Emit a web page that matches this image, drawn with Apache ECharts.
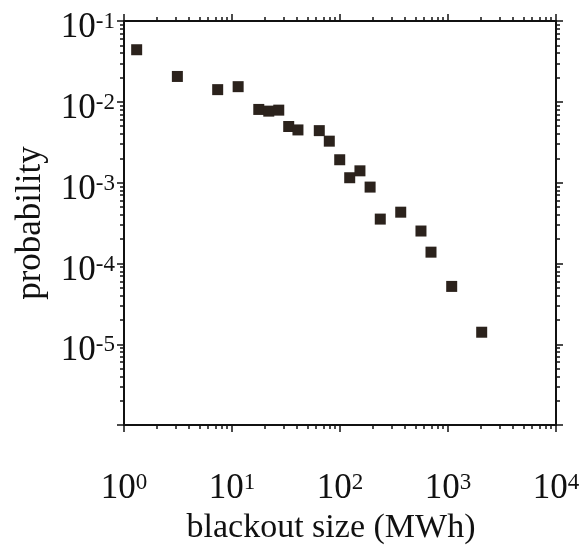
<!DOCTYPE html>
<html>
<head>
<meta charset="utf-8">
<script src="https://cdn.jsdelivr.net/npm/echarts@6/dist/echarts.min.js"></script>
<style>
html,body{margin:0;padding:0;background:#fff;}
#c{width:584px;height:550px;}
</style>
</head>
<body>
<div id="c"></div>
<script>
// blackout size (MWh)
var sizes = [1.31, 3.12, 7.37, 11.4, 17.7, 21.9, 27.1, 33.5, 40.8, 64.3, 79.6, 99.4, 123, 153, 190, 236, 365, 562, 696, 1082, 2051];
// probability
var probs = [0.0441, 0.0206, 0.01415, 0.0154, 0.00805, 0.00767, 0.00789, 0.00495, 0.00449, 0.00440, 0.00326, 0.00192, 0.00115, 0.00140, 0.000881, 0.000354, 0.000431, 0.000252, 0.000138, 0.0000520, 0.0000141];
var xMinorTicks = [2,3,4,5,6,7,8,9,20,30,40,50,60,70,80,90,200,300,400,500,600,700,800,900,2000,3000,4000,5000,6000,7000,8000,9000];
var yMinorTicks = [2e-6,3e-6,4e-6,5e-6,6e-6,7e-6,8e-6,9e-6,2e-5,3e-5,4e-5,5e-5,6e-5,7e-5,8e-5,9e-5,2e-4,3e-4,4e-4,5e-4,6e-4,7e-4,8e-4,9e-4,2e-3,3e-3,4e-3,5e-3,6e-3,7e-3,8e-3,9e-3,2e-2,3e-2,4e-2,5e-2,6e-2,7e-2,8e-2,9e-2];

var FONT = 'Liberation Serif';
var INK = '#111';
var data = sizes.map(function (s, i) { return [s, probs[i]]; });

function expLabel(v) {
  var e = Math.round(Math.log10(v));
  return '{b|10}{s|' + (e < 0 ? '-' + (-e) : e) + '}';
}
var rich = {
  b: { fontFamily: FONT, fontSize: 35, color: INK },
  s: { fontFamily: FONT, fontSize: 23, color: INK, verticalAlign: 'top', padding: [0, 0, 12, 0] }
};

function logAxis(type, pos, min, max, opts) {
  var base = {
    type: 'log', logBase: 10, position: pos, min: min, max: max, interval: 1,
    splitLine: { show: false },
    axisLine: { show: true, lineStyle: { color: INK, width: 2 } },
    axisTick: { show: true, length: 7, lineStyle: { color: INK, width: 1.5 } },
    axisLabel: { show: false }
  };
  for (var k in opts) base[k] = opts[k];
  return base;
}

var chart = echarts.init(document.getElementById('c'), null, { renderer: 'canvas' });
chart.setOption({
  animation: false,
  backgroundColor: '#fff',
  grid: { left: 124, right: 28, top: 21, bottom: 121 },
  xAxis: [
    logAxis('x', 'bottom', 1, 10000, {
      name: 'blackout size (MWh)', nameLocation: 'middle', nameGap: 83,
      nameTextStyle: { fontFamily: FONT, fontSize: 34, color: INK, padding: [0, 18, 0, 0] },
      axisLabel: { show: true, margin: 46, formatter: expLabel, rich: rich }
    }),
    logAxis('x', 'bottom', 1, 10000, {
      axisLine: { show: false },
      axisTick: { show: true, length: 4, customValues: xMinorTicks, lineStyle: { color: INK, width: 1.5 } }
    }),
    logAxis('x', 'top', 1, 10000, {}),
    logAxis('x', 'top', 1, 10000, {
      axisLine: { show: false },
      axisTick: { show: true, length: 4, customValues: xMinorTicks, lineStyle: { color: INK, width: 1.5 } }
    })
  ],
  yAxis: [
    logAxis('y', 'left', 1e-6, 1e-1, {
      name: 'probability', nameLocation: 'middle', nameGap: 76, nameRotate: 90,
      nameTextStyle: { fontFamily: FONT, fontSize: 35, color: INK },
      axisLabel: {
        show: true, margin: 9, rich: rich, padding: [14, 0, 0, 0],
        formatter: function (v) { return Math.round(Math.log10(v)) <= -6 ? '' : expLabel(v); }
      }
    }),
    logAxis('y', 'left', 1e-6, 1e-1, {
      axisLine: { show: false },
      axisTick: { show: true, length: 4, customValues: yMinorTicks, lineStyle: { color: INK, width: 1.5 } }
    }),
    logAxis('y', 'right', 1e-6, 1e-1, {}),
    logAxis('y', 'right', 1e-6, 1e-1, {
      axisLine: { show: false },
      axisTick: { show: true, length: 4, customValues: yMinorTicks, lineStyle: { color: INK, width: 1.5 } }
    })
  ],
  series: [{
    type: 'scatter',
    xAxisIndex: 0, yAxisIndex: 0,
    symbol: 'rect', symbolSize: 11,
    itemStyle: { color: '#2b221c', opacity: 1 },
    data: data
  }]
});
</script>
</body>
</html>
